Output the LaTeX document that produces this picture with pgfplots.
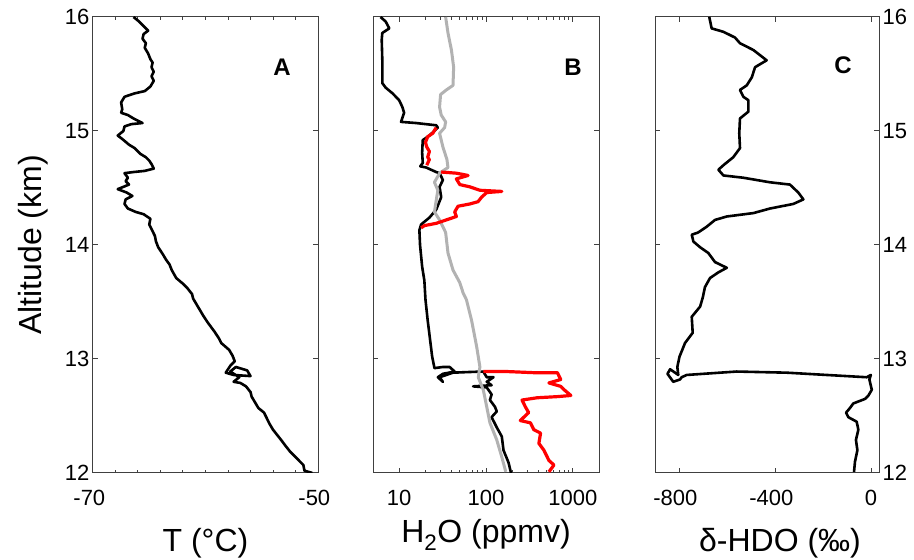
\documentclass[border=0pt]{standalone}
\usepackage{pgfplots}
\pgfplotsset{compat=1.18}
\usepackage{fontspec}
\setmainfont{Liberation Sans}

\definecolor{frame}{RGB}{64,64,64}
\definecolor{lgray}{RGB}{178,178,178}

\pgfplotsset{
  panel/.style={
    scale only axis, height=456pt,
    ymin=12, ymax=16, ytick={12,13,14,15,16},
    tick align=inside, tick pos=both,
    major tick length=5pt, minor tick length=3pt,
    axis line style={draw=frame, line width=1pt},
    every tick/.style={draw=frame, line width=1pt},
    tick label style={font=\fontsize{22}{26}\selectfont},
    xticklabel style={yshift=-14pt},
    label style={font=\fontsize{32}{38}\selectfont},
    xlabel style={anchor=base},
    every axis plot/.append style={line join=round},
  },
}
\tikzset{letter/.style={font=\fontsize{24}{28}\selectfont\bfseries}}

\begin{document}
\begin{tikzpicture}
\path[use as bounding box] (0,0) rectangle (914pt,560pt);

% A: temperature
\begin{axis}[panel, at={(93pt,87pt)}, anchor=south west, width=225pt,
  xmin=-70, xmax=-50, xtick={-70,-50}, minor x tick num=9,
  xticklabels={\llap{-}70,\llap{-}50},
  yticklabels={12,13,14,15,16},
  xlabel={T (°C)}, xlabel style={at={(axis description cs:0.5,-0.173)}},
  ylabel={Altitude (km)},
  ylabel style={at={(axis description cs:-0.2267,0.5)}, anchor=base}]
\addplot[black, line width=2.6pt] table {
-66.4 16.00
-65.9 15.96
-65.6 15.93
-65.1 15.88
-65.5 15.85
-65.6 15.81
-65.3 15.77
-65.4 15.73
-65.1 15.68
-64.9 15.63
-64.7 15.60
-64.8 15.56
-64.6 15.52
-64.8 15.48
-64.6 15.44
-64.9 15.39
-65.4 15.35
-66.3 15.33
-67.2 15.30
-67.5 15.25
-67.4 15.19
-67.5 15.16
-66.9 15.14
-66.4 15.11
-65.6 15.07
-66.6 15.06
-67.2 15.04
-67.3 15.00
-67.8 14.96
-67.4 14.93
-66.8 14.88
-66.3 14.85
-65.8 14.80
-65.3 14.77
-65.0 14.74
-64.8 14.71
-64.6 14.67
-65.4 14.65
-66.4 14.64
-67.2 14.63
-66.9 14.59
-67.1 14.56
-66.8 14.53
-67.8 14.49
-67.0 14.46
-66.5 14.43
-67.1 14.40
-67.2 14.36
-66.9 14.32
-66.2 14.29
-65.5 14.27
-64.9 14.23
-65.0 14.18
-64.8 14.14
-64.5 14.08
-64.4 14.03
-64.2 13.98
-63.8 13.92
-63.5 13.87
-63.2 13.83
-63.0 13.78
-62.6 13.71
-62.0 13.66
-61.6 13.62
-61.2 13.57
-61.1 13.53
-60.8 13.48
-60.5 13.43
-60.2 13.38
-59.8 13.32
-59.5 13.28
-59.2 13.24
-58.8 13.18
-58.6 13.14
-57.9 13.08
-57.6 13.03
-57.4 12.98
-57.8 12.94
-58.2 12.88
-57.5 12.86
-56.0 12.85
-56.3 12.90
-57.3 12.93
-57.8 12.89
-57.0 12.84
-57.5 12.80
-56.9 12.79
-56.4 12.76
-56.0 12.71
-55.9 12.67
-55.6 12.62
-55.3 12.57
-54.8 12.53
-54.5 12.47
-54.3 12.43
-54.0 12.38
-53.6 12.33
-53.2 12.28
-52.9 12.24
-52.5 12.19
-52.0 12.14
-51.6 12.10
-51.3 12.07
-51.2 12.02
-50.5 12.00
};
\node[letter] at (rel axis cs:0.84,0.89) {A};
\end{axis}

% B: water vapour
\begin{axis}[panel, at={(373pt,87pt)}, anchor=south west, width=226pt,
  xmode=log, xmin=5, xmax=2000, xtick={10,100,1000},
  xticklabels={10,100,1000}, yticklabels={},
  xlabel={H\textsubscript{2}O (ppmv)},
  xlabel style={at={(axis description cs:0.5,-0.1535)}}]
\addplot[black, line width=2.6pt] table {
6.1 16.00
7.0 15.96
7.7 15.90
6.4 15.86
6.3 15.80
6.4 15.62
6.4 15.42
7.0 15.38
8.4 15.33
10.0 15.27
10.9 15.21
11.4 15.16
10.5 15.08
15.6 15.07
26.7 15.05
27.9 15.03
22.3 14.96
18.7 14.92
18.4 14.81
18.7 14.72
17.5 14.69
20.4 14.68
26.7 14.64
29.2 14.63
31.9 14.57
29.2 14.51
30.5 14.42
26.7 14.31
22.3 14.24
17.9 14.18
17.1 14.13
17.4 14.00
18.4 13.81
19.5 13.69
20.1 13.52
21.3 13.34
22.7 13.17
24.0 13.02
25.5 12.92
31.9 12.93
38.1 12.93
43.6 12.89
31.9 12.87
27.9 12.84
31.9 12.80
29.2 12.84
41.7 12.88
60.0 12.885
93.0 12.89
102 12.84
122 12.84
102 12.80
116 12.77
71 12.76
102 12.75
116 12.69
111 12.64
127 12.58
133 12.54
116 12.49
133 12.40
152 12.32
159 12.20
182 12.09
194 12.00
};
\addplot[lgray, line width=3pt] table {
34.3 16.00
36.5 15.86
40.0 15.71
42.4 15.56
41.7 15.40
34.9 15.36
30.0 15.32
29.2 15.21
30.5 15.14
34.3 15.08
33.4 15.03
29.2 14.98
31.9 14.86
35.5 14.75
36.5 14.68
29.2 14.63
25.5 14.55
27.9 14.48
26.7 14.39
25.5 14.29
29.2 14.22
34.3 14.11
36.5 13.93
41.7 13.78
49.9 13.67
54.5 13.58
59.5 13.52
68.2 13.34
78.0 13.11
85.1 12.93
81.4 12.84
93.0 12.73
102 12.58
111 12.44
133 12.29
152 12.14
169 12.01
};
\addplot[red, line width=3.2pt] table {
26.7 15.03
24.4 14.98
21.3 14.95
20.1 14.90
20.8 14.86
22.3 14.82
21.3 14.77
22.3 14.75
20.8 14.70
};
\addplot[red, line width=3.2pt] table {
30.5 14.64
45.6 14.63
62.2 14.61
45.6 14.58
49.9 14.53
65.2 14.51
85.1 14.48
152 14.47
102 14.46
89 14.42
81 14.38
65.2 14.36
47.6 14.34
43.6 14.29
45.6 14.25
34.9 14.22
26.7 14.19
19.5 14.17
17.9 14.15
};
\addplot[red, line width=3.2pt] table {
93 12.89
174 12.89
355 12.88
664 12.88
725 12.82
530 12.79
725 12.76
794 12.73
949 12.68
664 12.67
388 12.66
260 12.64
284 12.58
310 12.53
248 12.46
325 12.44
355 12.38
425 12.35
406 12.26
464 12.20
530 12.11
606 12.07
530 12.01
};
\node[letter] at (rel axis cs:0.885,0.89) {B};
\end{axis}

% C: delta HDO
\begin{axis}[panel, at={(655pt,87pt)}, anchor=south west, width=224pt,
  xmin=-900, xmax=33, xtick={-800,-400,0},
  xticklabels={\llap{-}800,\llap{-}400,0},
  yticklabels={12,13,14,15,16}, yticklabel pos=right, ytick pos=both,
  xlabel={δ-HDO (‰)},
  xlabel style={at={(axis description cs:0.558,-0.173)}}]
\addplot[black, line width=2.6pt] table {
-674 16.00
-664 15.90
-615 15.87
-567 15.82
-546 15.77
-490 15.71
-435 15.62
-483 15.56
-497 15.47
-518 15.40
-546 15.36
-532 15.30
-511 15.27
-511 15.17
-546 15.11
-549 14.98
-546 14.85
-574 14.77
-615 14.70
-636 14.66
-615 14.61
-532 14.59
-421 14.55
-338 14.53
-303 14.46
-282 14.40
-324 14.36
-421 14.32
-490 14.28
-601 14.25
-650 14.22
-685 14.16
-720 14.11
-747 14.09
-740 14.03
-712 13.98
-678 13.93
-650 13.85
-601 13.80
-636 13.76
-671 13.71
-692 13.63
-701 13.54
-712 13.46
-747 13.37
-743 13.23
-775 13.14
-798 13.02
-807 12.93
-803 12.86
-837 12.91
-848 12.87
-824 12.80
-796 12.82
-789 12.84
-768 12.86
-560 12.89
-351 12.88
-185 12.86
-18 12.84
-1 12.86
-7 12.82
3 12.73
-11 12.68
-25 12.65
-74 12.61
-88 12.57
-104 12.53
-95 12.49
-60 12.45
-53 12.38
-63 12.29
-57 12.20
-67 12.10
-71 12.01
};
\node[letter] at (rel axis cs:0.839,0.895) {C};
\end{axis}
\end{tikzpicture}
\end{document}
